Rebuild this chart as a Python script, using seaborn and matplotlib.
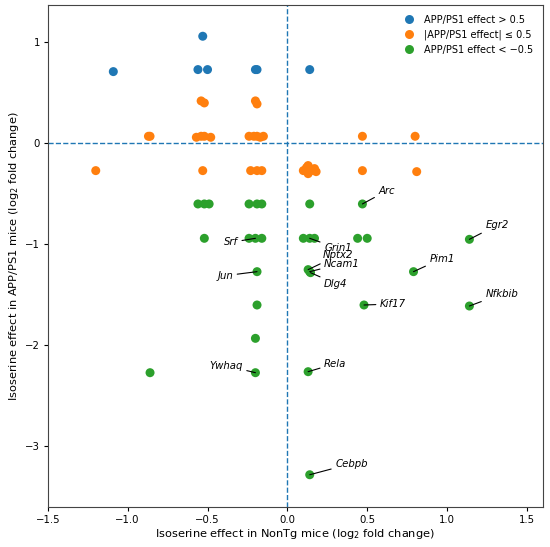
import numpy as np
import pandas as pd
import matplotlib
matplotlib.use("Agg")
import matplotlib.pyplot as plt
import seaborn as sns

# isoserine effect in NonTg mice (x) and in APP/PS1 mice (y), log2 fold change
up_x = [-1.09, -0.53, -0.56, -0.50, -0.20, -0.19, 0.14]
up_y = [0.71, 1.06, 0.73, 0.73, 0.73, 0.73, 0.73]

mid_x = [-0.54, -0.52, -0.20, -0.19,
         -0.87, -0.86, -0.57, -0.54, -0.52, -0.48,
         -0.24, -0.21, -0.19, -0.17, -0.15, 0.47, 0.80,
         -1.20, -0.53, -0.23, -0.19, -0.16,
         0.10, 0.12, 0.13, 0.15, 0.17, 0.18, 0.13, 0.47, 0.81]
mid_y = [0.42, 0.40, 0.42, 0.39,
         0.07, 0.07, 0.06, 0.07, 0.07, 0.06,
         0.07, 0.07, 0.07, 0.06, 0.07, 0.07, 0.07,
         -0.27, -0.27, -0.27, -0.27, -0.27,
         -0.27, -0.24, -0.30, -0.27, -0.25, -0.28, -0.22, -0.27, -0.28]

down_x = [-0.56, -0.52, -0.49, -0.24, -0.19, -0.16,
          -0.52, -0.24, -0.20, -0.16,
          -0.19, -0.19, -0.20, -0.20, -0.86,
          0.14, 0.47,
          0.10, 0.14, 0.17, 0.44, 0.50, 1.14,
          0.13, 0.14, 0.145, 0.79, 0.48, 1.14, 0.13, 0.14]
down_y = [-0.60, -0.60, -0.60, -0.60, -0.60, -0.60,
          -0.94, -0.94, -0.94, -0.94,
          -1.27, -1.60, -1.93, -2.27, -2.27,
          -0.60, -0.60,
          -0.94, -0.94, -0.94, -0.94, -0.94, -0.95,
          -1.25, -1.27, -1.28, -1.27, -1.60, -1.61, -2.26, -3.28]

groups = ["APP/PS1 effect > 0.5", "|APP/PS1 effect| \u2264 0.5", "APP/PS1 effect < \u22120.5"]

# gene labels: name, point (x, y), text position (x, y), alignment
genes = ["Arc", "Egr2", "Pim1", "Nfkbib", "Kif17", "Grin1", "Nptx2", "Ncam1",
         "Dlg4", "Rela", "Cebpb", "Srf", "Jun", "Ywhaq"]
gene_x = [0.47, 1.14, 0.79, 1.14, 0.48, 0.14, 0.13, 0.14, 0.145, 0.13, 0.14, -0.20, -0.19, -0.20]
gene_y = [-0.60, -0.95, -1.27, -1.61, -1.60, -0.94, -1.25, -1.27, -1.28, -2.26, -3.28, -0.94, -1.27, -2.27]
text_x = [0.57, 1.24, 0.89, 1.24, 0.58, 0.23, 0.22, 0.23, 0.23, 0.23, 0.30, -0.31, -0.34, -0.28]
text_y = [-0.47, -0.81, -1.14, -1.49, -1.59, -1.04, -1.11, -1.19, -1.39, -2.18, -3.17, -0.98, -1.31, -2.20]
text_ha = ["left"] * 11 + ["right"] * 3

df = pd.DataFrame({
    "x": up_x + mid_x + down_x,
    "y": up_y + mid_y + down_y,
    "group": [groups[0]] * len(up_x) + [groups[1]] * len(mid_x) + [groups[2]] * len(down_x),
})

fig, ax = plt.subplots(figsize=(5.5, 5.47), dpi=100)
fig.subplots_adjust(left=0.087, right=0.987, top=0.991, bottom=0.073)

ax.axhline(0, color="#1f77b4", lw=1, ls="--", zorder=1)
ax.axvline(0, color="#1f77b4", lw=1, ls="--", zorder=1)

sns.scatterplot(data=df, x="x", y="y", hue="group", hue_order=groups,
                palette=["#1f77b4", "#ff7f0e", "#2ca02c"], s=42,
                edgecolor="none", ax=ax, zorder=3)

for name, gx, gy, tx, ty, ha in zip(genes, gene_x, gene_y, text_x, text_y, text_ha):
    ax.annotate(name, xy=(gx, gy), xytext=(tx, ty), ha=ha, va="center",
                fontsize=7.3, style="italic",
                arrowprops=dict(arrowstyle="-", color="black", lw=0.8,
                                shrinkA=1, shrinkB=0))

ax.set_xlim(-1.5, 1.6)
ax.set_ylim(-3.6, 1.37)
ax.set_xticks([-1.5, -1.0, -0.5, 0.0, 0.5, 1.0, 1.5])
ax.set_yticks([-3, -2, -1, 0, 1])
ax.tick_params(labelsize=7.3, length=3, pad=2.5)
for s in ax.spines.values():
    s.set_color("#444444")
ax.set_xlabel("Isoserine effect in NonTg mice (log$_2$ fold change)", fontsize=8.2, labelpad=2)
ax.set_ylabel("Isoserine effect in APP/PS1 mice (log$_2$ fold change)", fontsize=8.2, labelpad=3)

ax.legend(loc="upper right", frameon=False, fontsize=7, handletextpad=0.5,
          borderaxespad=0.6, markerscale=1.0)

fig.savefig("out.png", dpi=100)
